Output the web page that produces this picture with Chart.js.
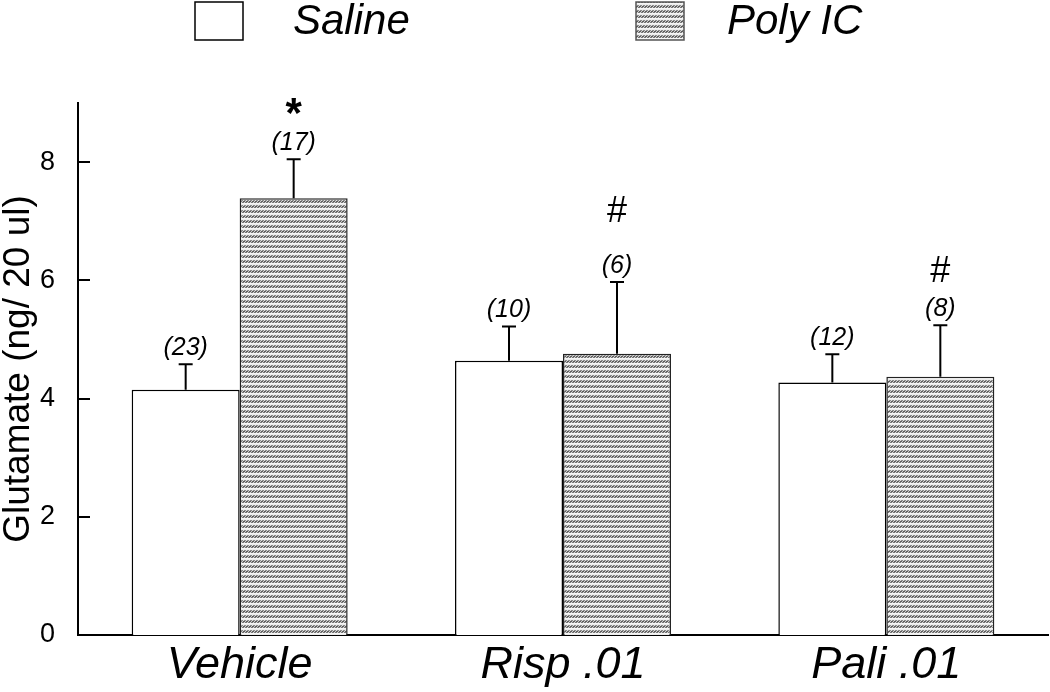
<!DOCTYPE html>
<html>
<head>
<meta charset="utf-8">
<script src="https://cdn.jsdelivr.net/npm/chart.js@4.4.0/dist/chart.umd.min.js"></script>
<style>
html,body{margin:0;padding:0;background:#fff;}
#wrap{width:1050px;height:692px;}
</style>
</head>
<body>
<div id="wrap"><canvas id="myChart" width="1050" height="692"></canvas></div>
<script>
// data
const groups = ['Vehicle', 'Risp .01', 'Pali .01'];
const seriesNames = ['Saline', 'Poly IC'];
const salineMean = [4.15, 4.64, 4.27];
const salineSem = [0.43, 0.58, 0.48];
const polyMean = [7.39, 4.76, 4.37];
const polySem = [0.66, 1.21, 0.87];
const salineN = ['(23)', '(10)', '(12)'];
const polyN = ['(17)', '(6)', '(8)'];
const polyMarks = ['*', '#', '#'];
const yTicks = [0, 2, 4, 6, 8];

const FONT = '"Liberation Sans", Arial, sans-serif';

function makePattern(){
  const c = document.createElement('canvas');
  c.width = 6; c.height = 5;
  const g = c.getContext('2d');
  const rows = ['.XX.XX', 'XX.XX.', 'X.XX.X', '......', '......'];
  const shades = ['#8a8a8a', '#5e5e5e', '#767676', '#fff', '#fff'];
  const blank = ['#e0e0e0', '#d0d0d0', '#d8d8d8', '#f6f6f6', '#ececec'];
  for (let r = 0; r < rows.length; r++) {
    for (let k = 0; k < 6; k++) {
      g.fillStyle = rows[r][k] == 'X' ? shades[r] : blank[r];
      g.fillRect(k, r, 1, 1);
    }
  }
  return document.getElementById('myChart').getContext('2d').createPattern(c, 'repeat');
}
const polyFill = makePattern();

const errorBars = {
  id: 'errorBars',
  afterDatasetsDraw(chart) {
    const ctx = chart.ctx, y = chart.scales.y;
    const markGap = [52, 70, 53];
    chart.data.datasets.forEach((ds, di) => {
      const meta = chart.getDatasetMeta(di);
      meta.data.forEach((bar, i) => {
        const top = y.getPixelForValue(ds.data[i] + ds.sem[i]);
        ctx.save();
        ctx.strokeStyle = '#000';
        ctx.lineWidth = 2;
        ctx.beginPath();
        ctx.moveTo(bar.x, bar.y);
        ctx.lineTo(bar.x, top);
        ctx.moveTo(bar.x - 7, top);
        ctx.lineTo(bar.x + 7, top);
        ctx.stroke();
        ctx.fillStyle = '#000';
        ctx.textAlign = 'center';
        ctx.textBaseline = 'middle';
        ctx.font = 'italic 25px ' + FONT;
        ctx.fillText(ds.nLabels[i], bar.x, top - 16);
        if (ds.marks && ds.marks[i]) {
          if (ds.marks[i] == '*') {
            ctx.font = 'bold 42px ' + FONT;
            ctx.fillText('*', bar.x, top - markGap[i] + 8);
          } else {
            ctx.font = '36px ' + FONT;
            ctx.fillText(ds.marks[i], bar.x, top - markGap[i]);
          }
        }
        ctx.restore();
      });
    });
  }
};

// ticks point into the plot, like the original
const innerTicks = {
  id: 'innerTicks',
  afterDraw(chart) {
    const ctx = chart.ctx, y = chart.scales.y, left = chart.chartArea.left;
    ctx.save();
    ctx.strokeStyle = '#000';
    ctx.lineWidth = 2;
    yTicks.forEach(v => {
      const py = Math.round(y.getPixelForValue(v));
      ctx.beginPath();
      ctx.moveTo(left, py);
      ctx.lineTo(left + 12, py);
      ctx.stroke();
    });
    ctx.restore();
  }
};

const topLegend = {
  id: 'topLegend',
  afterDraw(chart) {
    const ctx = chart.ctx;
    const items = [
      {x: 195, fill: '#fff', stroke: '#000', tx: 293},
      {x: 636, fill: polyFill, stroke: '#555', tx: 727}
    ];
    ctx.save();
    items.forEach((it, i) => {
      ctx.fillStyle = it.fill;
      ctx.fillRect(it.x, 2, 48, 38);
      ctx.strokeStyle = it.stroke;
      ctx.lineWidth = 1.5;
      ctx.strokeRect(it.x, 2, 48, 38);
      ctx.fillStyle = '#000';
      ctx.font = 'italic 42px ' + FONT;
      ctx.textBaseline = 'middle';
      ctx.textAlign = 'left';
      ctx.fillText(seriesNames[i], it.tx, 22);
    });
    ctx.restore();
  }
};

const data = {
  labels: groups,
  datasets: [
    {
      label: seriesNames[0],
      data: salineMean,
      sem: salineSem,
      nLabels: salineN,
      backgroundColor: '#ffffff',
      borderColor: '#000',
      borderWidth: 1.5
    },
    {
      label: seriesNames[1],
      data: polyMean,
      sem: polySem,
      nLabels: polyN,
      marks: polyMarks,
      backgroundColor: polyFill,
      borderColor: '#222',
      borderWidth: 1.5
    }
  ]
};

const config = {
  type: 'bar',
  data: data,
  options: {
    responsive: false,
    animation: false,
    devicePixelRatio: 1,
    layout: { padding: { top: 103, right: 2, left: 0, bottom: 0 } },
    categoryPercentage: 0.668,
    barPercentage: 1,
    plugins: {
      legend: { display: false },
      tooltip: { enabled: false }
    },
    scales: {
      x: {
        grid: { display: false },
        border: { display: true, color: '#000', width: 2 },
        ticks: {
          color: '#000',
          padding: 0,
          font: { family: FONT, size: 45, style: 'italic', lineHeight: 1 }
        },
        afterFit: s => { s.height = 57; }
      },
      y: {
        min: 0,
        max: 9,
        grid: { display: false },
        border: { display: true, color: '#000', width: 2 },
        afterBuildTicks: s => { s.ticks = yTicks.map(v => ({ value: v })); },
        ticks: {
          color: '#000',
          padding: 15,
          font: { family: FONT, size: 27 }
        },
        title: {
          display: true,
          text: 'Glutamate (ng/ 20 ul)',
          color: '#000',
          padding: { top: 0, bottom: 0 },
          font: { family: FONT, size: 37, lineHeight: 1 }
        },
        afterFit: s => { s.width = 78; }
      }
    }
  },
  plugins: [errorBars, innerTicks, topLegend]
};

const myChart = new Chart(document.getElementById('myChart'), config);
</script>
</body>
</html>
